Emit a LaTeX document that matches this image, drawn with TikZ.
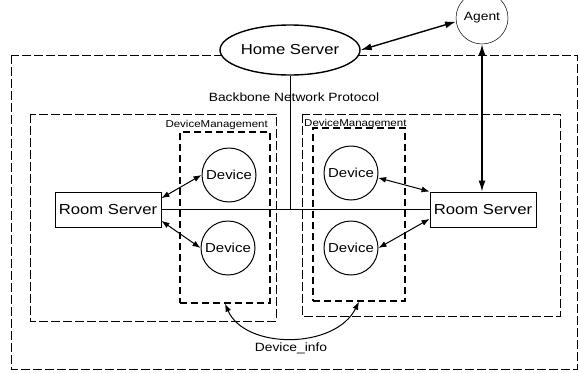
\documentclass[tikz,border=0pt]{standalone}
\usepackage{fontspec}
\setmainfont{Liberation Sans}[FakeStretch=1.15]
\usetikzlibrary{arrows.meta,shapes.geometric}
\begin{document}
\begin{tikzpicture}[x=1pt,y=-1pt,
  every node/.style={font=\fontsize{12}{14}\selectfont},
  zone/.style={draw,line width=0.5pt,dash pattern=on 9pt off 3pt},
  mgmt/.style={draw,line width=1.4pt,dash pattern=on 7pt off 4pt,inner sep=0pt},
  server/.style={draw,line width=0.9pt,minimum width=106pt,minimum height=35pt,inner sep=0pt,font=\fontsize{14.5}{16}\selectfont},
  device/.style={draw,circle,line width=1pt,minimum size=54pt,inner sep=0pt,font=\fontsize{13}{15}\selectfont},
  mgmtlabel/.style={inner sep=0pt,font=\fontsize{10}{12}\selectfont},
  link/.style={line width=1pt,{Latex[length=8pt,width=6pt]}-{Latex[length=8pt,width=6pt]}},
  biglink/.style={line width=1.4pt,{Latex[length=11pt,width=7pt]}-{Latex[length=11pt,width=7pt]}}]
  \useasboundingbox (0,0) rectangle (580,372);
  \draw[zone] (11,55) rectangle (577,369);
  \draw[zone] (30,114) rectangle (276,321);
  \draw[zone] (302,114) rectangle (560,316);
  \node[draw,ellipse,fill=white,line width=1.4pt,minimum width=140pt,minimum height=50pt,inner sep=0pt,font=\fontsize{14.5}{16}\selectfont] (home) at (290,50) {Home Server};
  \node[draw,circle,line width=0.5pt,minimum size=52pt,inner sep=0pt] (agent) at (482,18) {Agent};
  \node (backbone) at (294,97) {Backbone Network Protocol};
  \node[mgmt,minimum width=90pt,minimum height=171pt] (mgmtL) at (225,217.5) {};
  \node[mgmt,minimum width=92pt,minimum height=173pt] (mgmtR) at (359,214.5) {};
  \node[mgmtlabel,anchor=east] (labelL) at (268,125) {DeviceManagement};
  \node[mgmtlabel,anchor=west] (labelR) at (304,124) {DeviceManagement};
  \node[server] (roomL) at (108,209.5) {Room Server};
  \node[server] (roomR) at (483,209.5) {Room Server};
  \node[device] (devLT) at (229,175) {Device};
  \node[device] (devLB) at (228,248) {Device};
  \node[device] (devRT) at (351,173) {Device};
  \node[device] (devRB) at (351,248) {Device};
  \node (info) at (291,348) {Device\_info};
  \coordinate (hub) at (290,209.5);
  \draw[line width=0.9pt] (home) -- (hub);
  \draw[line width=0.9pt] (roomL) -- (roomR);
  \draw[biglink] (home.east) -- (agent.188);
  \draw[biglink] (agent.south) -- (agent.south |- roomR.north);
  \draw[link] (roomL.12) -- (devLT.west);
  \draw[link] (roomL.-12) -- (devLB.west);
  \draw[link] (roomR.north west) -- (devRT.-10);
  \draw[link] (roomR.190) -- (devRB.east);
  \draw[link] (mgmtL.south) .. controls +(20,46) and +(-24,48) .. (mgmtR.south);
\end{tikzpicture}
\end{document}
